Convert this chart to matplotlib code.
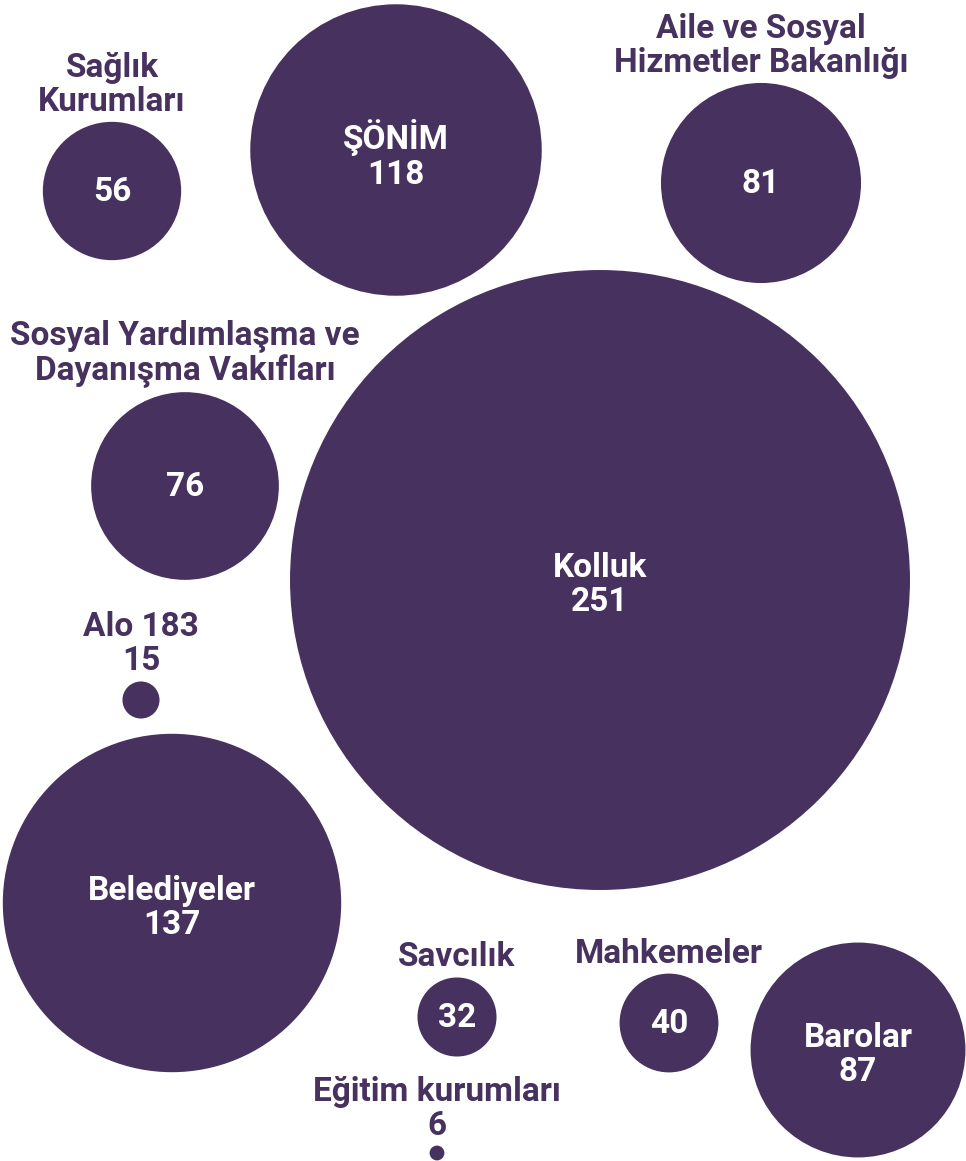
import matplotlib.pyplot as plt
from matplotlib.patches import Circle

# veriler
names = ['Sağlık\nKurumları', 'ŞÖNİM', 'Aile ve Sosyal\nHizmetler Bakanlığı',
         'Sosyal Yardımlaşma ve\nDayanışma Vakıfları', 'Kolluk', 'Alo 183',
         'Belediyeler', 'Savcılık', 'Eğitim kurumları', 'Mahkemeler', 'Barolar']
values = [56, 118, 81, 76, 251, 15, 137, 32, 6, 40, 87]
# etiket dairenin içinde mi (True) yoksa üstünde mi (False)
inside = [False, True, False, False, True, False, True, False, False, False, True]
# etiketin altında değer de yazılsın mı (küçük daireler için)
value_outside = [False, False, False, False, False, True, False, False, True, False, False]

# yerleşim (piksel)
cx = [112, 396, 761, 185, 600, 141, 172, 457, 437, 669, 858]
cy = [191, 150, 183, 486, 580, 700, 903, 1017, 1153, 1023, 1050]
scale = 1.235  # yarıçap = değer * scale

purple = '#47315e'
W, H = 966, 1161

fig = plt.figure(figsize=(W / 100, H / 100), dpi=100)
ax = fig.add_axes([0, 0, 1, 1])
ax.set_xlim(0, W)
ax.set_ylim(H, 0)
ax.set_aspect('equal')
ax.axis('off')

fs = 24
font = dict(family='Roboto', fontweight='bold', fontsize=fs, linespacing=1.08)

for i in range(len(values)):
    r = values[i] * scale
    ax.add_patch(Circle((cx[i], cy[i]), r, color=purple, lw=0))
    if inside[i]:
        ax.text(cx[i], cy[i] + 5, names[i] + '\n' + str(values[i]), color='white',
                ha='center', va='center', **font)
    else:
        if value_outside[i]:
            lbl = names[i] + '\n' + str(values[i])
        else:
            lbl = names[i]
            ax.text(cx[i], cy[i] + 1, str(values[i]), color='white',
                    ha='center', va='center', **font)
        ax.text(cx[i], cy[i] - r - 4, lbl, color=purple,
                ha='center', va='bottom', **font)

fig.savefig('out.png', dpi=100)
